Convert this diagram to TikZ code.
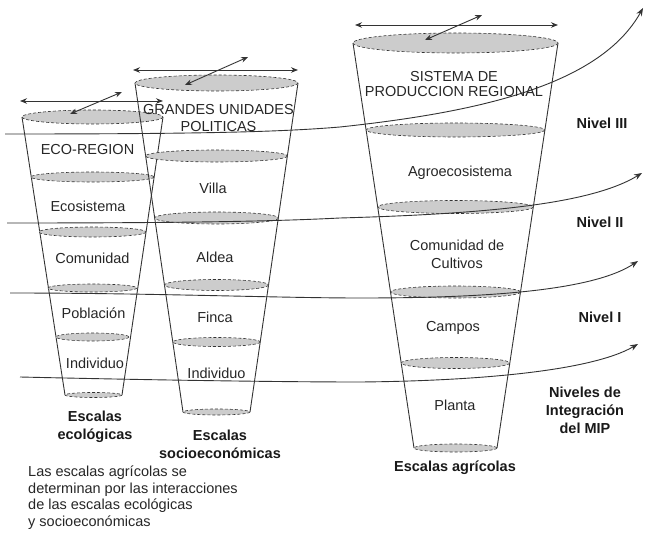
\documentclass[tikz,border=0pt]{standalone}
\usepackage{fontspec}
\setmainfont{Liberation Sans}
\usetikzlibrary{arrows.meta}

\begin{document}
\begin{tikzpicture}[x=1pt,y=-1pt,
  cone/.style={draw=black!80,line width=0.9pt},
  disc/.style={draw=black!80,densely dashed,fill=black!20,line width=0.6pt},
  scalearr/.style={draw=black!80,line width=0.9pt,{Stealth[length=7pt,width=5.5pt]}-{Stealth[length=7pt,width=5.5pt]}},
  lvl/.style={draw=black!80,line width=0.9pt,-{Stealth[length=8pt,width=6pt]}},
  lbl/.style={font=\fontsize{14.5}{17}\selectfont,text=black!85,inner sep=0pt,align=center},
  hd/.style={font=\fontsize{14.5}{18}\selectfont\bfseries,text=black!90,inner sep=0pt,align=center}]
\useasboundingbox (0,0) rectangle (645,540);
\draw[cone] (22,117) -- (65,395);
\draw[cone] (163,117) -- (122,395);
\draw[disc] (92.5,117) ellipse (70.5 and 7);
\draw[disc] (92.5,177) ellipse (61.5 and 5);
\draw[disc] (92.5,232) ellipse (53.5 and 5);
\draw[disc] (92.5,288) ellipse (44.5 and 4);
\draw[disc] (92.5,337) ellipse (36.5 and 4);
\draw[disc] (93.5,395) ellipse (28.5 and 2.5);
\draw[cone] (135,83) -- (183,412);
\draw[cone] (298,83) -- (250,412);
\draw[disc] (216.5,83) ellipse (81.5 and 8);
\draw[disc] (216.5,156) ellipse (71 and 6);
\draw[disc] (216.5,218) ellipse (62 and 6);
\draw[disc] (216.5,285) ellipse (52 and 5.5);
\draw[disc] (216.5,342) ellipse (43.7 and 4.5);
\draw[disc] (216.5,412) ellipse (33.5 and 3);
\draw[cone] (353,43) -- (414,448);
\draw[cone] (558,43) -- (497,448);
\draw[disc] (455.5,43) ellipse (102.5 and 10);
\draw[disc] (455.5,130) ellipse (89.4 and 7);
\draw[disc] (455.5,207) ellipse (77.8 and 6.5);
\draw[disc] (455.5,292) ellipse (65 and 6);
\draw[disc] (455.5,363) ellipse (54.3 and 5.5);
\draw[disc] (455.5,448) ellipse (41.5 and 4);
\draw[scalearr] (20,101) -- (163,101);
\draw[scalearr] (70,114) -- (122,92);
\draw[scalearr] (133,70) -- (298,70);
\draw[scalearr] (185,85) -- (248,57);
\draw[scalearr] (355,25) -- (558,25);
\draw[scalearr] (425,40) -- (482,15);
\coordinate (n3a) at (5,134);
\coordinate (n3b) at (643,8);
\coordinate (n2a) at (7,223);
\coordinate (n2b) at (642,173);
\coordinate (n1a) at (10,293);
\coordinate (n1b) at (638,261);
\coordinate (n0a) at (20,377);
\coordinate (n0b) at (638,344);
\draw[lvl] (n3a) .. controls (200,134) and (280,132) .. (340,127) .. controls (480,112) and (600,85) .. (n3b);
\draw[lvl] (n2a) .. controls (200,223) and (280,221) .. (340,218) .. controls (480,214) and (590,205) .. (n2b);
\draw[lvl] (n1a) .. controls (150,293) and (280,298) .. (360,298) .. controls (470,298) and (590,293) .. (n1b);
\draw[lvl] (n0a) .. controls (150,380) and (280,382) .. (360,382) .. controls (470,381) and (590,372) .. (n0b);
\node[lbl] (ecoreg) at (87.5,150) {ECO-REGION};
\node[lbl] (ecosis) at (88,206) {Ecosistema};
\node[lbl] (comun) at (92.5,258) {Comunidad};
\node[lbl] (pobl) at (93.5,313) {Población};
\node[lbl] (indiv1) at (95,363) {Individuo};
\node[hd] (esceco) at (95,427) {Escalas\\ecológicas};
\node[lbl,font=\fontsize{14.5}{17}\selectfont] (grandes) at (218.5,118) {GRANDES UNIDADES\\POLITICAS};
\node[lbl] (villa) at (213,188) {Villa};
\node[lbl] (aldea) at (215,257) {Aldea};
\node[lbl] (finca) at (215,317) {Finca};
\node[lbl] (indiv2) at (216.5,373) {Individuo};
\node[hd] (escsoc) at (220,444) {Escalas\\socioeconómicas};
\node[lbl,font=\fontsize{14.5}{15}\selectfont] (sistema) at (454,84) {SISTEMA DE\\PRODUCCION REGIONAL};
\node[lbl] (agro) at (460,173) {Agroecosistema};
\node[lbl,font=\fontsize{14.5}{18}\selectfont] (cultiv) at (457,254) {Comunidad de\\Cultivos};
\node[lbl] (campos) at (453,328) {Campos};
\node[lbl] (planta) at (455,405) {Planta};
\node[hd] (escagr) at (455,468) {Escalas agrícolas};
\node[hd] (niv3) at (602,123) {Nivel III};
\node[hd] (niv2) at (600,222) {Nivel II};
\node[hd] (niv1) at (600,317) {Nivel I};
\node[hd] (mip) at (585,410) {Niveles de\\Integración\\del MIP};
\node[lbl,font=\fontsize{14.5}{16.5}\selectfont,align=left,anchor=north west] (nota) at (28,466) {Las escalas agrícolas se\\determinan por las interacciones\\de las escalas ecológicas\\y socioeconómicas};
\end{tikzpicture}
\end{document}
